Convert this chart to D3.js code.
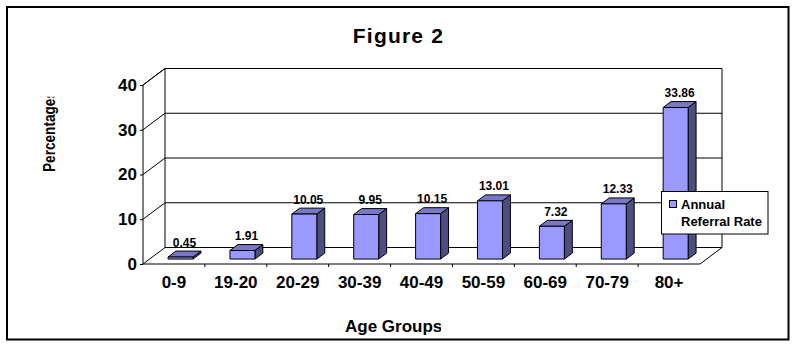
<!DOCTYPE html>
<html><head><meta charset="utf-8">
<script src="https://cdn.jsdelivr.net/npm/d3@7"></script>
<style>body{margin:0;background:#fff}svg{display:block;font-family:"Liberation Sans",Arial,sans-serif}</style>
</head><body><svg id="c" width="797" height="347"></svg>
<script>
const categories = ["0-9","19-20","20-29","30-39","40-49","50-59","60-69","70-79","80+"];
const values = [0.45,1.91,10.05,9.95,10.15,13.01,7.32,12.33,33.86];
const valueLabels = ["0.45","1.91","10.05","9.95","10.15","13.01","7.32","12.33","33.86"];
const yTicks = [0,10,20,30,40];
const seriesName = ["Annual","Referral Rate"];

const svg = d3.select("#c");
const DX = 22, DY = 16.5;          // depth vector of the 3D box
const z0 = 0.3, z1 = 0.66;         // bar depth range
const barW = 25;
const x = d3.scaleBand().domain(categories).range([143, 700]);
const y = d3.scaleLinear().domain([0, 40]).range([264, 85]);
const P = (px, v, z) => [px + z * DX, y(v) - z * DY];
const line = d3.line();

// outer border
svg.append("rect").attr("x",7).attr("y",7).attr("width",781.5).attr("height",332.5)
  .attr("fill","#fff").attr("stroke","#000").attr("stroke-width",2);

// title
svg.append("text").attr("x",398.5).attr("y",42.5).attr("text-anchor","middle")
  .attr("font-size",21).attr("font-weight","bold").attr("letter-spacing","1.2px").text("Figure 2");

const g = svg.append("g").attr("stroke","#000").attr("stroke-width",1).attr("fill","none");
const x0 = x.range()[0], x1 = x.range()[1];
// back wall gridlines + left wall diagonals
yTicks.forEach(t => {
  g.append("path").attr("d", line([P(x0,t,1), P(x1,t,1)]));
  g.append("path").attr("d", line([P(x0,t,0), P(x0,t,1)]));
});
// back wall edges
g.append("path").attr("d", line([P(x0,0,1), P(x0,40,1)]));
g.append("path").attr("d", line([P(x1,0,1), P(x1,40,1)]));
// floor
g.append("path").attr("d", line([P(x0,0,0), P(x1,0,0), P(x1,0,1)]));

// bars
const bars = svg.append("g").attr("stroke","#000").attr("stroke-width",1).attr("stroke-linejoin","round");
categories.forEach((c, i) => {
  const v = values[i];
  const L = x(c) + x.bandwidth()/2 - barW/2;
  const R = L + barW;
  const fl = P(L,0,z0), fr = P(R,0,z0), tl = P(L,v,z0), tr = P(R,v,z0);
  const btl = P(L,v,z1), btr = P(R,v,z1), bbr = P(R,0,z1);
  bars.append("path").attr("fill","#4d4d80").attr("d", line([fr,tr,btr,bbr]) + "Z");
  bars.append("path").attr("fill","#7878c4").attr("d", line([tl,tr,btr,btl]) + "Z");
  bars.append("path").attr("fill","#9999ff").attr("d", line([fl,fr,tr,tl]) + "Z");
  svg.append("text").attr("x", (L + R + (z1-z0)*DX)/2 + z0*DX).attr("y", btl[1] - 4.5)
    .attr("text-anchor","middle").attr("font-size",12).attr("font-weight","bold").text(valueLabels[i]);
});

// front axes
g.append("path").attr("d", line([P(x0,0,0), P(x0,40,0), P(x0,40,1)]));
const yAxis = svg.append("g").attr("transform",`translate(${x0},0)`)
  .call(d3.axisLeft(y).tickValues(yTicks).tickSize(3).tickPadding(3).tickFormat(d3.format("d")));
yAxis.select(".domain").remove();
yAxis.selectAll("text").attr("font-size",17).attr("font-weight","bold").attr("font-family","Liberation Sans, Arial, sans-serif").attr("fill","#000");
yAxis.selectAll("line").attr("stroke","#000");

const xAxis = svg.append("g").attr("transform",`translate(0,${y(0)})`)
  .call(d3.axisBottom(x).tickSize(0).tickPadding(12));
xAxis.select(".domain").remove();
xAxis.selectAll("text").attr("font-size",17).attr("font-weight","bold").attr("font-family","Liberation Sans, Arial, sans-serif").attr("fill","#000");
// bottom tick marks at band boundaries
categories.slice(1).forEach(c => {
  g.append("path").attr("d", `M${x(c)},${y(0)}V${y(0)+3}`);
});

// axis titles (clipped like the reference)
const defs = svg.append("defs");
defs.append("clipPath").attr("id","cy").append("rect").attr("x",30).attr("y",96.7).attr("width",40).attr("height",120);
defs.append("clipPath").attr("id","cx").append("rect").attr("x",300).attr("y",305).attr("width",141).attr("height",35);
svg.append("g").attr("clip-path","url(#cy)").append("text")
  .attr("transform","translate(55,172) rotate(-90)").attr("font-size",16.5).attr("font-weight","bold")
  .attr("textLength",81).attr("lengthAdjust","spacingAndGlyphs").text("Percentages");
svg.append("g").attr("clip-path","url(#cx)").append("text")
  .attr("x",345).attr("y",332).attr("font-size",17).attr("font-weight","bold").text("Age Groups");

// legend
const lg = svg.append("g");
lg.append("rect").attr("x",661.5).attr("y",191.5).attr("width",106.5).attr("height",42.5).attr("fill","#fff").attr("stroke","#000");
lg.append("rect").attr("x",669.5).attr("y",200.5).attr("width",7).attr("height",7).attr("fill","#9999ff").attr("stroke","#000");
lg.append("text").attr("x",681).attr("y",209).attr("font-size",13).attr("font-weight","bold").text(seriesName[0]);
lg.append("text").attr("x",681).attr("y",226).attr("font-size",13).attr("font-weight","bold").text(seriesName[1]);
</script></body></html>
